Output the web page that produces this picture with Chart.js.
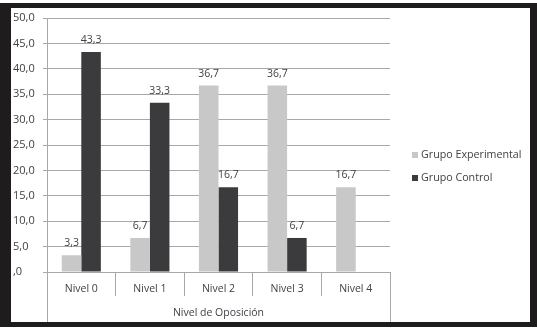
<!DOCTYPE html>
<html>
<head>
<meta charset="utf-8">
<script src="https://cdn.jsdelivr.net/npm/chart.js@4"></script>
<style>
  html, body { margin: 0; padding: 0; background: #ffffff; }
  #frame { position: absolute; left: 0; top: 3px; width: 537px; height: 324px; background: #1e1c1c; }
  #wrap { position: absolute; left: 11px; top: 8px; width: 519px; height: 314px; background: #ffffff; }
  canvas { display: block; }
</style>
</head>
<body>
<div id="frame"></div>
<div id="wrap"><canvas id="c" width="519" height="314"></canvas></div>
<script>
const categories = ['Nivel 0', 'Nivel 1', 'Nivel 2', 'Nivel 3', 'Nivel 4'];
const seriesNames = ['Grupo Experimental', 'Grupo Control'];
const experimental = [3.3, 6.7, 36.7, 36.7, 16.7];
const control = [43.3, 33.3, 16.7, 6.7, null];
const yTicks = [0, 5, 10, 15, 20, 25, 30, 35, 40, 45, 50];
const xTitle = 'Nivel de Oposición';

const FONT = "'Open Sans', 'DejaVu Sans', sans-serif";
const TEXT = '#404048';
const GRID = '#a8a8a8';

function fmt(v) {
  if (v === 0) return ',0';
  return v.toFixed(1).replace('.', ',');
}

const labelsPlugin = {
  id: 'valueLabels',
  afterDatasetsDraw(chart) {
    const ctx = chart.ctx;
    ctx.save();
    ctx.font = '10.5px ' + FONT;
    ctx.fillStyle = TEXT;
    ctx.textAlign = 'center';
    ctx.textBaseline = 'middle';
    chart.data.datasets.forEach((ds, i) => {
      const meta = chart.getDatasetMeta(i);
      meta.data.forEach((bar, j) => {
        const v = ds.data[j];
        if (v === null || v === undefined) return;
        ctx.fillText(fmt(v), bar.x, bar.y - 12);
      });
    });
    ctx.restore();
  }
};

const framePlugin = {
  id: 'frameLines',
  afterDraw(chart) {
    const ctx = chart.ctx;
    const a = chart.chartArea;
    ctx.save();
    ctx.strokeStyle = GRID;
    ctx.lineWidth = 1;
    ctx.beginPath();
    ctx.moveTo(Math.round(a.left) + 0.5, a.top);
    ctx.lineTo(Math.round(a.left) + 0.5, chart.height);
    ctx.moveTo(Math.round(a.right) + 0.5, a.bottom);
    ctx.lineTo(Math.round(a.right) + 0.5, chart.height);
    ctx.stroke();
    // legend
    ctx.font = '10.7px ' + FONT;
    ctx.textAlign = 'left';
    ctx.textBaseline = 'middle';
    const rows = [147, 170];
    chart.data.datasets.forEach((ds, i) => {
      ctx.fillStyle = ds.backgroundColor;
      ctx.fillRect(401, rows[i] - 3, 6, 6);
      ctx.fillStyle = TEXT;
      ctx.fillText(ds.label, 410, rows[i]);
    });
    ctx.restore();
  }
};

new Chart(document.getElementById('c'), {
  type: 'bar',
  data: {
    labels: categories,
    datasets: [
      { label: seriesNames[0], data: experimental, backgroundColor: '#c8c8c8', categoryPercentage: 0.57, barPercentage: 1.0 },
      { label: seriesNames[1], data: control, backgroundColor: '#3b3b3d', categoryPercentage: 0.57, barPercentage: 1.0 }
    ]
  },
  options: {
    responsive: false,
    animation: false,
    devicePixelRatio: 1,
    layout: { padding: { left: 2, top: 10, right: 140, bottom: 0 } },
    plugins: { legend: { display: false }, tooltip: { enabled: false } },
    scales: {
      x: {
        offset: true,
        grid: { offset: true, drawOnChartArea: false, tickLength: 24, color: GRID },
        border: { display: false },
        ticks: { padding: -13, color: TEXT, font: { family: FONT, size: 10.5 } },
        title: { display: true, text: xTitle, color: TEXT, font: { family: FONT, size: 10.5 }, padding: { top: 2, bottom: 3 } },
        afterFit(s) { s.height = 50; }
      },
      y: {
        min: 0, max: 50,
        afterBuildTicks(s) { s.ticks = yTicks.map(v => ({ value: v })); },
        grid: { color: GRID, tickLength: 4 },
        border: { display: true, color: GRID },
        ticks: { crossAlign: 'far', color: TEXT, font: { family: FONT, size: 11 }, callback: v => fmt(v) },
        afterFit(s) { s.width = 34; }
      }
    }
  },
  plugins: [labelsPlugin, framePlugin]
});
</script>
</body>
</html>
